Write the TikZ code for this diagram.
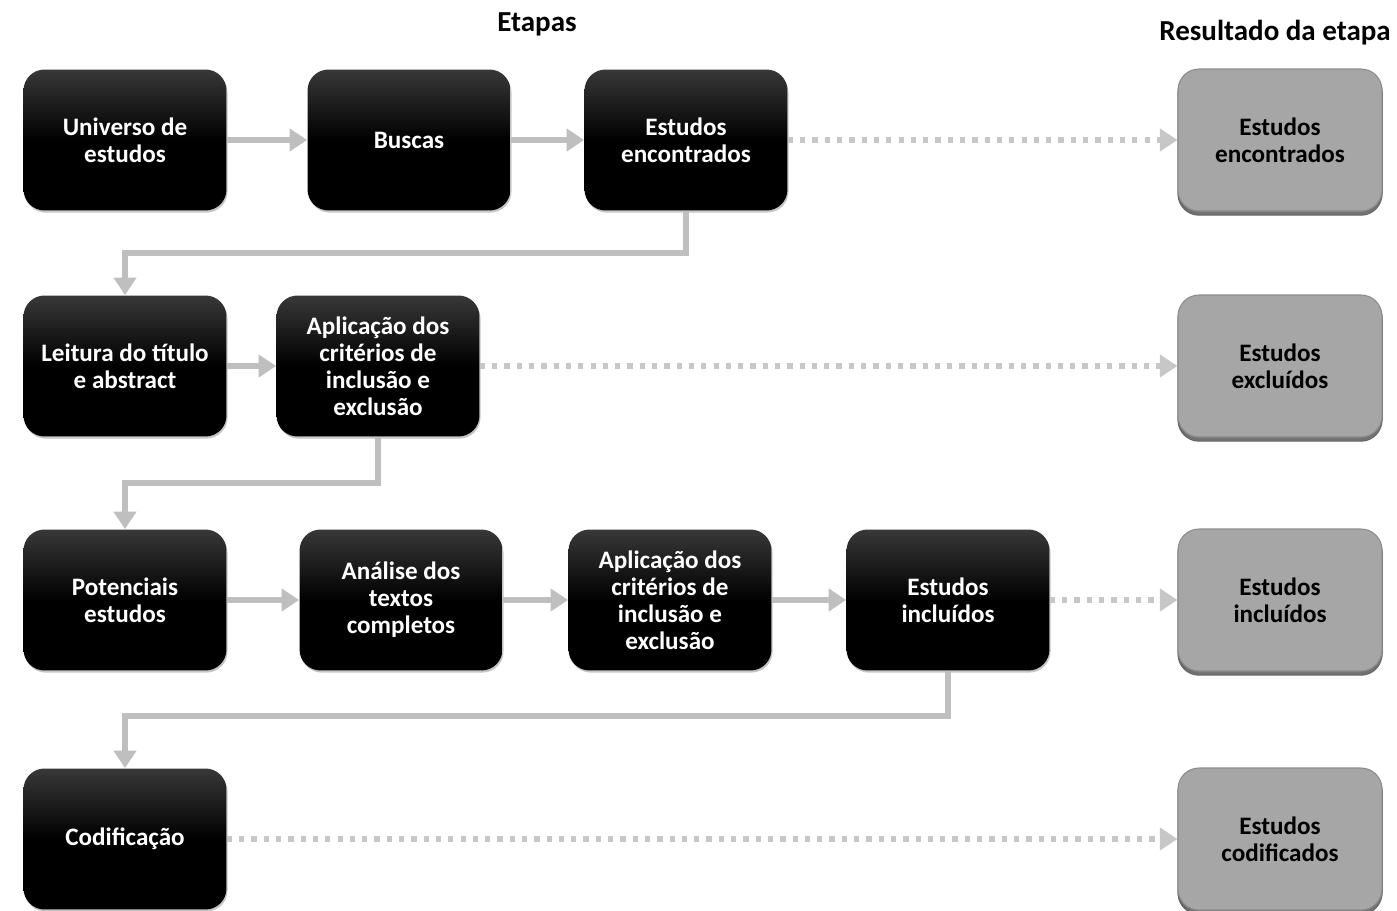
\documentclass[tikz,border=0pt]{standalone}
\usepackage{fontspec}
\setmainfont{Carlito}
\usetikzlibrary{shadows,arrows.meta}

\pgfdeclareverticalshading{etapafundo}{100bp}{color(0bp)=(black); color(50bp)=(black);
  color(75bp)=(black!78); color(100bp)=(black!78)}

\tikzset{
  etapa/.style={rounded corners=0.42cm, minimum width=4.06cm, minimum height=2.82cm,
    align=center, text=white, font=\bfseries\fontsize{14.3}{15.3}\selectfont,
    shading=etapafundo,
    drop shadow={opacity=0.45, shadow xshift=0.6pt, shadow yshift=-1.2pt}},
  resultado/.style={rounded corners=0.42cm, minimum width=4.08cm, minimum height=2.84cm,
    align=center, text=black, font=\bfseries\fontsize{14.3}{15.3}\selectfont,
    fill=black!35, draw=black!45, line width=0.6pt,
    double copy shadow={shadow xshift=0pt, shadow yshift=-1.2pt, fill=black!55, draw=black!60},
    drop shadow={opacity=0.4, shadow xshift=0.6pt, shadow yshift=-1.6pt}},
  titulo/.style={font=\bfseries\fontsize{16.5}{18}\selectfont},
  liga/.style={draw=black!25, line width=3.4pt, -{Triangle[width=12.5pt,length=10pt]}},
  pontilhado/.style={draw=black!22, line width=3.2pt, dash pattern=on 3pt off 4pt,
    -{Triangle[width=12.5pt,length=10pt]}}
}

\begin{document}
\begin{tikzpicture}[x=0.02cm, y=-0.02cm]
\useasboundingbox (0,0) rectangle (1397,911);

\node[titulo] (etapas) at (537,24) {Etapas};
\node[titulo] (result) at (1275,33) {Resultado da etapa};

\node[etapa] (uni) at (125,140) {Universo de\\estudos};
\node[etapa] (buscas) at (409,140) {Buscas};
\node[etapa] (enc) at (686,140) {Estudos\\encontrados};
\node[resultado] (renc) at (1280,140) {Estudos\\encontrados};

\node[etapa] (leitura) at (125,366) {Leitura do título\\e abstract};
\node[etapa] (aplic1) at (378,366) {Aplicação dos\\critérios de\\inclusão e\\exclusão};
\node[resultado] (rexc) at (1280,366) {Estudos\\excluídos};

\node[etapa] (potenc) at (125,600) {Potenciais\\estudos};
\node[etapa] (analise) at (401,600) {Análise dos\\textos\\completos};
\node[etapa] (aplic2) at (670,600) {Aplicação dos\\critérios de\\inclusão e\\exclusão};
\node[etapa] (incl) at (948,600) {Estudos\\incluídos};
\node[resultado] (rinc) at (1280,600) {Estudos\\incluídos};

\node[etapa] (codif) at (125,839) {Codificação};
\node[resultado] (rcod) at (1280,839) {Estudos\\codificados};

\draw[liga] (uni) -- (buscas);
\draw[liga] (buscas) -- (enc);
\draw[liga] (enc.south) -- ++(0,42) -| (leitura.north);
\draw[liga] (leitura) -- (aplic1);
\draw[liga] (aplic1.south) -- ++(0,46) -| (potenc.north);
\draw[liga] (potenc) -- (analise);
\draw[liga] (analise) -- (aplic2);
\draw[liga] (aplic2) -- (incl);
\draw[liga] (incl.south) -- ++(0,45) -| (codif.north);

\draw[pontilhado] (enc) -- (renc);
\draw[pontilhado] (aplic1) -- (rexc);
\draw[pontilhado] (incl) -- (rinc);
\draw[pontilhado] (codif) -- (rcod);
\end{tikzpicture}
\end{document}
